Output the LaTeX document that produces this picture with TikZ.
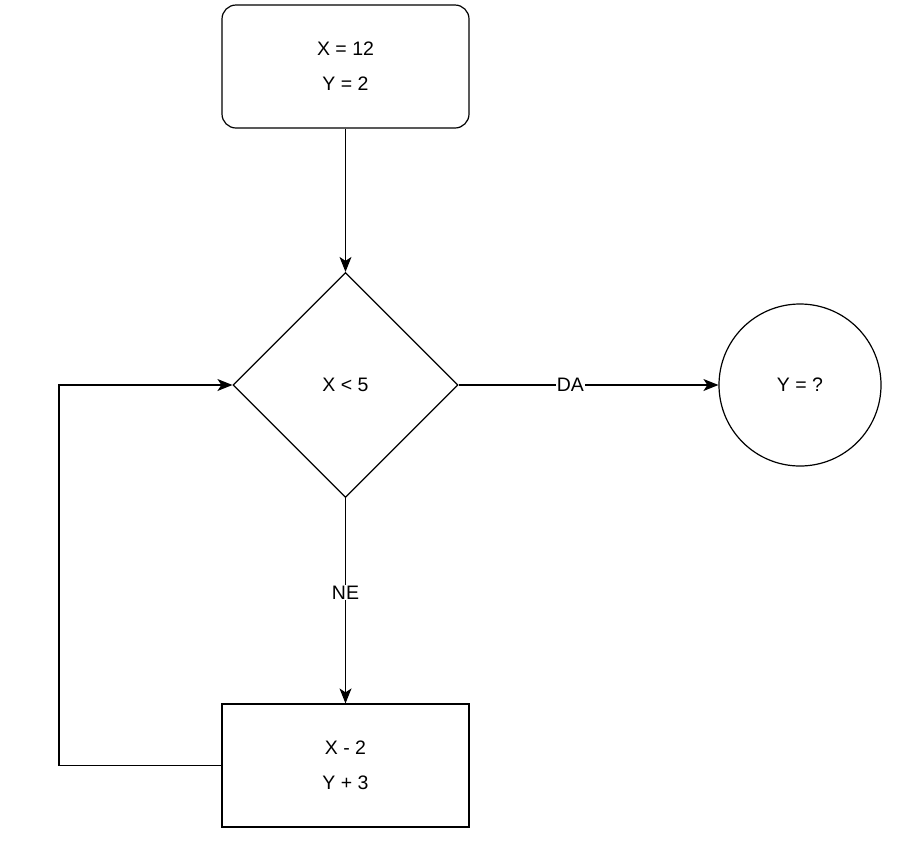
\documentclass[tikz,border=0pt]{standalone}
\usepackage{fontspec}
\setmainfont{Liberation Sans}
\usetikzlibrary{shapes.geometric,arrows.meta}
\tikzset{
	box/.style={draw, line width=1.2pt, minimum width=247pt, minimum height=123pt, align=center},
	flow/.style={line width=1.2pt, -{Stealth[length=15pt,width=12pt,inset=4pt]}},
	lbl/.style={fill=white, inner sep=1pt}
}
\begin{document}
\begin{tikzpicture}[x=1pt, y=-1pt, font=\fontsize{19.5}{35}\selectfont]
	\useasboundingbox (0,0) rectangle (904,844);
	\node[box, rounded corners=14pt] (start) at (345.5,66.5) {X = 12\\Y = 2};
	\node[draw, diamond, line width=1.2pt, minimum width=225pt, minimum height=225pt, inner sep=0pt] (cond) at (345.5,385) {X < 5};
	\node[draw, circle, line width=1.2pt, minimum size=162pt, inner sep=0pt] (result) at (800,385) {Y = ?};
	\node[box] (step) at (345.5,765.5) {X - 2\\Y + 3};
	\coordinate (lowleft) at (59,765.5);
	\coordinate (upleft) at (59,385);
	\draw[flow] (start) -- (cond);
	\draw[flow] (cond) -- (result) node[lbl, pos=0.43] {DA};
	\draw[flow] (cond) -- (step) node[lbl, pos=0.46] {NE};
	\draw[flow] (step.west) -- (lowleft) -- (upleft) -- (cond.west);
\end{tikzpicture}
\end{document}
